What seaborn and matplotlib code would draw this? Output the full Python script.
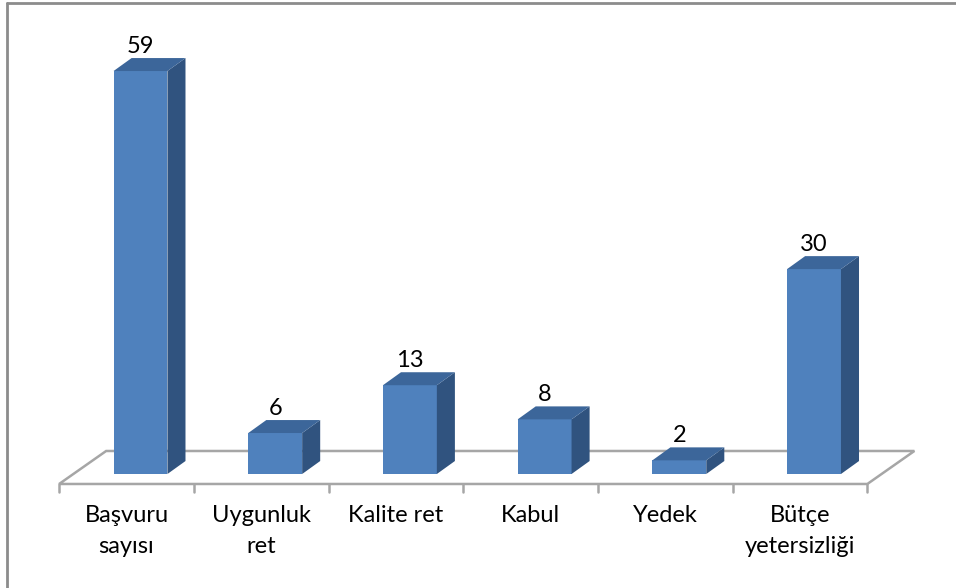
import matplotlib
matplotlib.use("Agg")
import matplotlib.pyplot as plt
from matplotlib.patches import Polygon
import seaborn as sns
import pandas as pd

# data
categories = ["Başvuru\nsayısı", "Uygunluk\nret", "Kalite ret", "Kabul", "Yedek", "Bütçe\nyetersizliği"]
values = [59, 6, 13, 8, 2, 30]

df = pd.DataFrame({"kategori": categories, "sayi": values})

sns.set_style("white")
plt.rcParams["font.family"] = ["Lato", "DejaVu Sans"]

front_col = "#4F81BD"
top_col = "#3C669A"
side_col = "#30537F"
floor_col = "#A6A6A6"

fig = plt.figure(figsize=(9.56, 5.88), dpi=100)
ax = fig.add_axes([0, 0, 1, 1])

# front faces of the bars
sns.barplot(data=df, x="kategori", y="sayi", color=front_col, width=0.40,
            saturation=1, linewidth=0, edgecolor="none", ax=ax, zorder=3)

# fake 3d depth (category units / value units)
dx, dy = 0.134, 1.9
for p in list(ax.patches):
    x0, w, h = p.get_x(), p.get_width(), p.get_height()
    side = Polygon([(x0 + w, 0), (x0 + w + dx, dy), (x0 + w + dx, h + dy), (x0 + w, h)],
                   closed=True, facecolor=side_col, edgecolor="none", zorder=3)
    top = Polygon([(x0, h), (x0 + dx, h + dy), (x0 + w + dx, h + dy), (x0 + w, h)],
                  closed=True, facecolor=top_col, edgecolor="none", zorder=3)
    ax.add_patch(side)
    ax.add_patch(top)

# floor
n = len(categories)
fx, fy = -0.104, -1.46   # front edge shift
bx, by = 0.245, 3.37     # back edge shift
floor = Polygon([(-0.5 + fx, fy), (n - 0.5 + fx, fy), (n - 0.5 + bx, by), (-0.5 + bx, by)],
                closed=True, facecolor="none", edgecolor=floor_col, lw=1.8, zorder=1)
ax.add_patch(floor)
for k in range(n + 1):
    ax.plot([k - 0.5 + fx, k - 0.5 + fx], [fy, fy - 1.2], color=floor_col, lw=1.8, zorder=1)

# category labels
for i, lab in enumerate(categories):
    ax.text(i + fx, -4.6, lab, ha="center", va="top", fontsize=17,
            linespacing=1.55, color="black")

# value labels
for i, v in enumerate(values):
    ax.text(i, v + dy + 0.8, str(v), ha="center", va="baseline", fontsize=17, color="black")

ax.set_xlim(-1.043, 6.054)
ax.set_ylim(-16.69, 69.4)
ax.axis("off")

# chart border (left + top)
fig.add_artist(plt.Line2D([7 / 956, 7 / 956], [0, 1 - 3 / 588], transform=fig.transFigure,
                          color="#8C8C8C", lw=2))
fig.add_artist(plt.Line2D([7 / 956, 1], [1 - 3 / 588, 1 - 3 / 588], transform=fig.transFigure,
                          color="#8C8C8C", lw=2))

plt.savefig("out.png", dpi=100)
